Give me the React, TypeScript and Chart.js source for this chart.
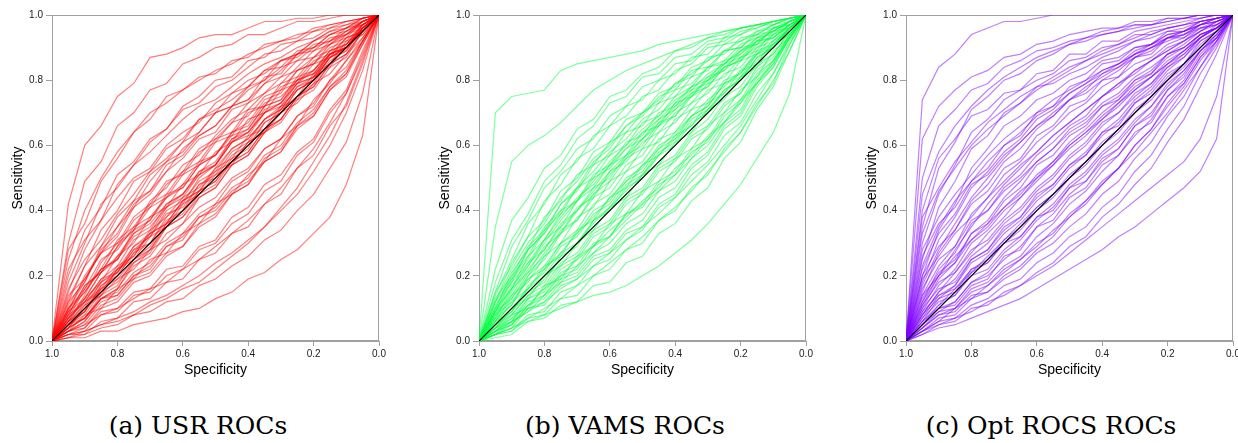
import { useEffect, useRef } from "react";
import { Chart, registerables } from "chart.js";

Chart.register(...registerables);

// Specificity grid (x values, plotted reversed 1.0 -> 0.0)
const SPECIFICITY = [1.0, 0.95, 0.9, 0.85, 0.8, 0.75, 0.7, 0.65, 0.6, 0.55, 0.5, 0.45, 0.4, 0.35, 0.3, 0.25, 0.2, 0.15, 0.1, 0.05, 0.0];
const AXIS_TICKS = [0, 0.2, 0.4, 0.6, 0.8, 1.0];
const DIAG_SPEC = [1, 0];
const DIAG_SENS = [0, 1];

const USR_ROCS = [
  [0, .42, .60, .66, .75, .79, .87, .88, .90, .93, .94, .94, .96, .98, .98, .99, .99, 1, 1, 1, 1],
  [0, .30, .49, .55, .66, .70, .77, .79, .85, .87, .90, .91, .94, .94, .96, .98, .98, .99, 1, 1, 1],
  [0, .28, .36, .49, .56, .64, .68, .75, .77, .81, .82, .86, .87, .91, .92, .93, .96, .97, .98, .99, 1],
  [0, .20, .34, .41, .51, .55, .62, .65, .71, .73, .78, .80, .84, .88, .89, .92, .93, .96, .97, .99, 1],
  [0, .15, .28, .37, .48, .54, .61, .65, .72, .75, .80, .81, .86, .87, .91, .92, .95, .96, .98, .99, 1],
  [0, .12, .23, .29, .38, .43, .51, .55, .61, .64, .70, .72, .78, .80, .86, .87, .91, .92, .96, .97, 1],
  [0, .10, .18, .29, .35, .43, .46, .54, .57, .63, .66, .72, .74, .81, .82, .88, .89, .93, .94, .98, 1],
  [0, .14, .19, .27, .32, .41, .45, .52, .56, .62, .64, .71, .73, .79, .81, .86, .87, .92, .94, .98, 1],
  [0, .08, .17, .21, .29, .34, .41, .44, .51, .54, .61, .63, .70, .72, .78, .80, .86, .88, .93, .95, 1],
  [0, .09, .13, .21, .26, .33, .37, .45, .47, .54, .57, .64, .66, .73, .75, .80, .82, .88, .90, .96, 1],
  [0, .07, .16, .22, .31, .35, .42, .45, .52, .55, .62, .64, .71, .72, .79, .81, .87, .89, .94, .96, 1],
  [0, .10, .16, .25, .28, .35, .38, .44, .48, .55, .57, .63, .65, .72, .74, .80, .83, .89, .91, .97, 1],
  [0, .06, .13, .18, .26, .30, .38, .41, .48, .51, .58, .61, .68, .70, .77, .79, .85, .87, .93, .95, 1],
  [0, .07, .12, .19, .23, .31, .34, .42, .45, .52, .54, .61, .64, .71, .73, .80, .82, .88, .90, .96, 1],
  [0, .05, .12, .15, .22, .26, .33, .36, .43, .46, .53, .56, .63, .65, .72, .74, .81, .84, .91, .94, 1],
  [0, .06, .09, .16, .19, .25, .28, .35, .38, .45, .48, .55, .58, .65, .68, .75, .78, .85, .88, .95, 1],
  [0, .04, .10, .14, .22, .25, .32, .35, .42, .45, .51, .54, .61, .64, .71, .75, .82, .85, .92, .94, 1],
  [0, .05, .08, .15, .18, .24, .27, .35, .38, .44, .47, .54, .57, .64, .67, .74, .77, .84, .87, .95, 1],
  [0, .08, .12, .19, .21, .28, .30, .37, .40, .46, .49, .55, .58, .65, .68, .75, .78, .85, .88, .95, 1],
  [0, .04, .07, .13, .16, .23, .26, .33, .36, .44, .47, .54, .57, .64, .68, .75, .79, .86, .89, .96, 1],
  [0, .06, .11, .18, .22, .29, .32, .40, .43, .49, .52, .59, .62, .68, .71, .78, .80, .87, .89, .96, 1],
  [0, .05, .09, .17, .21, .29, .33, .41, .45, .52, .55, .62, .64, .70, .73, .79, .81, .87, .90, .96, 1],
  [0, .09, .15, .22, .25, .32, .35, .41, .44, .51, .54, .61, .63, .70, .72, .79, .81, .88, .90, .97, 1],
  [0, .07, .13, .21, .25, .34, .37, .44, .47, .54, .57, .64, .67, .74, .76, .83, .85, .91, .93, .98, 1],
  [0, .05, .09, .16, .20, .27, .30, .38, .42, .50, .54, .62, .65, .72, .74, .81, .83, .89, .91, .97, 1],
  [0, .03, .06, .12, .14, .20, .22, .29, .31, .38, .41, .47, .50, .57, .60, .67, .71, .78, .82, .91, 1],
  [0, .04, .07, .13, .15, .21, .24, .30, .33, .39, .42, .49, .52, .59, .62, .69, .72, .80, .84, .92, 1],
  [0, .03, .05, .11, .13, .19, .21, .27, .29, .36, .39, .45, .48, .56, .59, .66, .70, .78, .83, .92, 1],
  [0, .05, .07, .13, .14, .20, .23, .29, .32, .38, .40, .46, .49, .55, .58, .66, .69, .77, .81, .91, 1],
  [0, .02, .04, .10, .12, .18, .20, .26, .29, .35, .38, .45, .48, .55, .58, .65, .69, .77, .82, .92, 1],
  [0, .02, .03, .08, .09, .14, .15, .20, .22, .28, .30, .36, .39, .46, .49, .57, .61, .70, .76, .88, 1],
  [0, .03, .04, .09, .10, .15, .16, .22, .23, .29, .31, .38, .41, .48, .51, .58, .62, .71, .77, .89, 1],
  [0, .02, .02, .06, .07, .12, .13, .18, .19, .25, .27, .33, .35, .42, .45, .53, .57, .66, .72, .85, 1],
  [0, .01, .01, .03, .03, .05, .06, .07, .09, .10, .13, .15, .19, .21, .25, .28, .33, .38, .48, .63, 1],
  [0, .01, .02, .04, .05, .08, .09, .12, .13, .17, .19, .23, .26, .31, .34, .40, .45, .53, .61, .76, 1],
  [0, .11, .19, .27, .30, .38, .42, .49, .51, .58, .61, .67, .69, .75, .77, .83, .85, .90, .92, .97, 1],
  [0, .04, .07, .14, .17, .25, .29, .36, .39, .46, .49, .56, .59, .67, .70, .77, .80, .87, .90, .96, 1],
  [0, .06, .10, .18, .21, .28, .32, .39, .41, .48, .50, .57, .60, .67, .70, .77, .80, .87, .90, .95, 1],
  [0, .13, .23, .34, .40, .49, .52, .59, .62, .68, .70, .76, .78, .83, .84, .89, .90, .94, .95, .98, 1],
  [0, .03, .06, .13, .16, .24, .28, .36, .40, .48, .51, .58, .61, .68, .71, .78, .81, .88, .90, .95, 1],
  [0, .09, .20, .27, .35, .41, .49, .55, .58, .64, .70, .72, .77, .80, .84, .86, .90, .92, .95, .97, 1],
  [0, .12, .18, .28, .33, .42, .46, .52, .59, .63, .66, .72, .74, .79, .83, .88, .90, .94, .96, .98, 1],
  [0, .06, .14, .24, .30, .34, .43, .47, .54, .57, .63, .68, .71, .76, .81, .83, .87, .91, .95, .98, 1],
  [0, .08, .17, .21, .29, .37, .41, .48, .52, .59, .62, .67, .73, .76, .79, .84, .89, .91, .94, .97, 1],
  [0, .16, .25, .31, .39, .45, .52, .56, .61, .68, .71, .74, .78, .83, .86, .88, .92, .95, .96, .99, 1],
  [0, .05, .09, .17, .20, .27, .33, .36, .43, .46, .52, .55, .61, .64, .70, .73, .79, .82, .88, .93, 1],
  [0, .04, .11, .14, .19, .22, .28, .31, .36, .41, .44, .50, .53, .59, .62, .69, .73, .80, .86, .93, 1],
  [0, .03, .08, .10, .16, .19, .25, .27, .33, .36, .42, .45, .51, .55, .62, .66, .74, .79, .86, .92, 1],
  [0, .10, .15, .22, .25, .33, .36, .42, .45, .51, .54, .61, .64, .70, .73, .79, .83, .88, .91, .96, 1],
  [0, .07, .12, .16, .23, .26, .34, .38, .44, .47, .53, .59, .62, .68, .72, .77, .80, .85, .90, .95, 1],
  [0, .25, .40, .50, .58, .64, .70, .73, .77, .80, .83, .85, .88, .90, .92, .94, .95, .97, .98, .99, 1],
  [0, .18, .30, .42, .47, .54, .58, .63, .68, .72, .74, .78, .82, .85, .87, .90, .92, .95, .97, .98, 1],
  [0, .22, .31, .37, .44, .50, .53, .60, .64, .67, .73, .76, .80, .82, .86, .88, .92, .94, .96, .99, 1],
  [0, .02, .03, .05, .07, .09, .12, .14, .17, .20, .24, .27, .31, .35, .40, .45, .52, .60, .70, .83, 1],
  [0, .03, .05, .08, .10, .13, .16, .18, .22, .25, .29, .33, .37, .42, .47, .53, .59, .67, .76, .87, 1],
  [0, .01, .03, .05, .06, .08, .11, .13, .16, .18, .22, .26, .30, .35, .41, .47, .55, .63, .73, .86, 1],
];

const VAMS_ROCS = [
  [0, .70, .75, .76, .77, .83, .85, .86, .87, .88, .89, .91, .92, .93, .94, .95, .96, .97, .98, .99, 1],
  [0, .35, .55, .60, .63, .67, .72, .77, .80, .83, .85, .87, .89, .91, .93, .95, .96, .97, .98, .99, 1],
  [0, .22, .37, .44, .53, .57, .65, .68, .75, .77, .82, .84, .89, .90, .93, .94, .96, .97, .98, .99, 1],
  [0, .15, .29, .37, .47, .52, .59, .62, .69, .72, .78, .80, .85, .86, .91, .92, .95, .96, .98, .99, 1],
  [0, .12, .24, .32, .43, .48, .56, .59, .66, .69, .75, .77, .83, .85, .90, .91, .94, .96, .98, .99, 1],
  [0, .15, .23, .32, .37, .46, .50, .58, .61, .68, .70, .76, .78, .84, .86, .91, .92, .95, .97, .99, 1],
  [0, .10, .21, .28, .38, .43, .51, .54, .61, .64, .70, .73, .79, .81, .87, .88, .93, .94, .97, .98, 1],
  [0, .13, .20, .29, .34, .42, .46, .54, .57, .64, .66, .73, .75, .81, .83, .89, .90, .94, .95, .98, 1],
  [0, .09, .19, .25, .34, .39, .47, .50, .57, .60, .67, .69, .75, .78, .84, .85, .90, .91, .96, .97, 1],
  [0, .11, .18, .28, .33, .40, .43, .51, .54, .61, .63, .70, .72, .78, .80, .86, .88, .93, .94, .98, 1],
  [0, .08, .17, .23, .31, .35, .43, .47, .54, .57, .64, .66, .73, .75, .81, .83, .89, .91, .96, .97, 1],
  [0, .10, .16, .24, .28, .36, .40, .47, .50, .57, .60, .67, .69, .75, .78, .84, .86, .91, .93, .97, 1],
  [0, .07, .16, .21, .29, .33, .41, .44, .52, .55, .61, .64, .70, .73, .79, .81, .87, .89, .95, .96, 1],
  [0, .09, .13, .21, .26, .34, .37, .44, .47, .54, .57, .64, .67, .73, .76, .82, .84, .90, .92, .97, 1],
  [0, .06, .14, .18, .26, .30, .38, .41, .49, .52, .59, .61, .68, .71, .77, .79, .86, .88, .94, .96, 1],
  [0, .08, .12, .19, .23, .30, .34, .42, .45, .52, .55, .62, .64, .71, .73, .80, .82, .89, .91, .96, 1],
  [0, .07, .11, .19, .22, .30, .33, .40, .43, .50, .53, .60, .63, .69, .72, .79, .81, .88, .90, .96, 1],
  [0, .05, .12, .16, .23, .26, .34, .37, .44, .47, .54, .57, .63, .66, .73, .76, .83, .85, .92, .95, 1],
  [0, .06, .09, .16, .20, .27, .30, .37, .40, .47, .50, .57, .60, .67, .70, .77, .80, .87, .90, .96, 1],
  [0, .04, .10, .13, .20, .23, .30, .34, .41, .44, .51, .54, .61, .64, .71, .74, .81, .84, .91, .94, 1],
  [0, .05, .08, .14, .17, .24, .27, .34, .37, .44, .47, .54, .57, .64, .68, .75, .78, .85, .88, .95, 1],
  [0, .04, .07, .13, .16, .23, .26, .33, .36, .43, .46, .53, .56, .63, .66, .73, .76, .84, .88, .95, 1],
  [0, .03, .08, .10, .17, .19, .26, .29, .36, .39, .46, .49, .56, .59, .66, .70, .77, .81, .89, .93, 1],
  [0, .04, .06, .12, .14, .20, .22, .29, .32, .39, .42, .49, .52, .59, .62, .70, .74, .82, .86, .94, 1],
  [0, .03, .05, .11, .13, .19, .21, .27, .30, .36, .39, .46, .49, .56, .60, .67, .71, .80, .85, .94, 1],
  [0, .02, .04, .10, .12, .18, .20, .26, .28, .34, .37, .44, .47, .54, .58, .66, .70, .79, .84, .93, 1],
  [0, .03, .05, .10, .11, .17, .19, .25, .27, .33, .35, .42, .45, .53, .57, .65, .69, .78, .84, .93, 1],
  [0, .02, .03, .08, .09, .15, .17, .23, .25, .31, .34, .41, .44, .51, .55, .63, .67, .76, .82, .92, 1],
  [0, .02, .03, .07, .08, .13, .14, .20, .22, .28, .30, .37, .40, .47, .51, .59, .64, .73, .79, .91, 1],
  [0, .01, .02, .06, .07, .11, .12, .17, .18, .24, .26, .33, .36, .43, .47, .56, .61, .71, .78, .89, 1],
  [0, .02, .04, .06, .08, .10, .12, .14, .15, .17, .20, .23, .27, .31, .36, .42, .48, .56, .64, .76, 1],
  [0, .18, .31, .39, .49, .54, .62, .66, .73, .75, .81, .82, .87, .88, .92, .93, .96, .97, .98, .99, 1],
  [0, .12, .19, .28, .33, .42, .47, .55, .59, .66, .69, .75, .77, .83, .84, .89, .90, .95, .96, .98, 1],
  [0, .06, .11, .20, .25, .33, .37, .45, .49, .56, .59, .66, .69, .76, .78, .84, .86, .92, .93, .97, 1],
  [0, .05, .09, .15, .18, .26, .29, .37, .41, .48, .51, .58, .61, .68, .71, .77, .80, .87, .90, .96, 1],
  [0, .03, .06, .13, .15, .22, .25, .32, .35, .42, .45, .52, .55, .62, .65, .72, .76, .83, .87, .94, 1],
  [0, .02, .05, .11, .14, .21, .23, .30, .32, .39, .41, .48, .51, .58, .61, .69, .73, .81, .86, .93, 1],
  [0, .14, .25, .36, .42, .51, .55, .63, .66, .72, .74, .80, .82, .87, .88, .93, .94, .97, .97, .99, 1],
  [0, .09, .16, .26, .31, .39, .43, .50, .53, .59, .62, .68, .71, .77, .79, .85, .87, .92, .93, .97, 1],
  [0, .04, .09, .17, .21, .29, .32, .39, .42, .49, .52, .59, .62, .69, .72, .79, .82, .88, .91, .96, 1],
  [0, .10, .20, .26, .35, .40, .47, .52, .58, .62, .68, .71, .77, .79, .84, .86, .91, .93, .96, .98, 1],
  [0, .07, .15, .23, .30, .37, .43, .49, .55, .60, .65, .69, .74, .77, .82, .85, .89, .92, .95, .98, 1],
  [0, .12, .22, .30, .36, .44, .49, .56, .60, .66, .70, .74, .79, .82, .86, .89, .92, .94, .97, .99, 1],
  [0, .06, .13, .20, .27, .33, .40, .45, .51, .56, .62, .66, .71, .75, .80, .83, .87, .90, .94, .97, 1],
  [0, .08, .14, .22, .28, .35, .40, .46, .52, .57, .62, .67, .72, .76, .80, .84, .88, .92, .95, .98, 1],
  [0, .03, .07, .11, .16, .20, .25, .29, .34, .38, .43, .47, .53, .57, .63, .67, .74, .79, .86, .93, 1],
  [0, .05, .10, .16, .22, .27, .33, .38, .44, .49, .54, .59, .64, .69, .74, .78, .83, .88, .92, .96, 1],
  [0, .02, .06, .09, .14, .18, .23, .27, .32, .37, .42, .46, .51, .56, .62, .67, .73, .79, .85, .93, 1],
  [0, .09, .18, .24, .31, .38, .44, .48, .54, .59, .64, .68, .73, .78, .81, .85, .89, .93, .95, .98, 1],
  [0, .04, .08, .14, .19, .25, .30, .36, .41, .46, .51, .57, .62, .66, .71, .76, .81, .86, .91, .96, 1],
  [0, .02, .04, .07, .10, .13, .17, .20, .24, .28, .32, .37, .41, .46, .52, .58, .64, .72, .80, .89, 1],
  [0, .03, .06, .09, .12, .16, .19, .23, .27, .31, .35, .39, .44, .49, .54, .60, .66, .74, .82, .91, 1],
];

const OPT_ROCS = [
  [0, .74, .84, .88, .94, .96, .98, .98, .99, 1, 1, 1, 1, 1, 1, 1, 1, 1, 1, 1, 1],
  [0, .62, .72, .77, .81, .83, .87, .88, .91, .92, .94, .95, .96, .96, .98, .98, .99, .99, 1, 1, 1],
  [0, .50, .66, .71, .77, .79, .84, .86, .89, .90, .92, .93, .95, .96, .97, .97, .99, .99, 1, 1, 1],
  [0, .35, .53, .61, .71, .75, .80, .82, .86, .88, .91, .92, .94, .95, .97, .97, .98, .99, 1, 1, 1],
  [0, .30, .45, .54, .64, .68, .74, .77, .80, .82, .86, .87, .90, .91, .94, .94, .96, .97, .99, 1, 1],
  [0, .25, .41, .49, .59, .63, .70, .73, .78, .79, .82, .84, .87, .89, .92, .93, .95, .96, .98, .99, 1],
  [0, .20, .34, .42, .53, .59, .66, .69, .74, .76, .80, .82, .86, .87, .90, .91, .94, .95, .98, .99, 1],
  [0, .18, .31, .38, .47, .52, .58, .62, .68, .71, .76, .79, .83, .85, .89, .91, .94, .95, .97, .99, 1],
  [0, .22, .33, .39, .48, .51, .57, .61, .66, .69, .74, .76, .80, .83, .87, .89, .93, .94, .97, .98, 1],
  [0, .15, .27, .34, .43, .48, .55, .59, .65, .69, .74, .77, .82, .84, .88, .90, .93, .94, .97, .98, 1],
  [0, .14, .23, .29, .39, .44, .51, .55, .61, .65, .70, .73, .78, .81, .85, .87, .91, .93, .96, .97, 1],
  [0, .12, .22, .27, .36, .40, .47, .51, .57, .61, .66, .69, .75, .78, .83, .86, .90, .92, .96, .97, 1],
  [0, .16, .25, .29, .37, .40, .46, .50, .55, .59, .64, .67, .72, .75, .80, .83, .88, .90, .94, .96, 1],
  [0, .10, .19, .24, .33, .37, .44, .49, .55, .59, .65, .68, .73, .76, .81, .84, .88, .91, .95, .97, 1],
  [0, .12, .20, .24, .31, .35, .41, .45, .51, .55, .61, .65, .70, .74, .79, .82, .87, .90, .94, .96, 1],
  [0, .09, .17, .22, .30, .34, .40, .44, .50, .54, .60, .64, .69, .73, .78, .81, .86, .89, .94, .96, 1],
  [0, .11, .18, .21, .28, .31, .37, .41, .47, .51, .57, .61, .67, .70, .76, .79, .85, .88, .93, .96, 1],
  [0, .08, .15, .19, .26, .30, .36, .40, .46, .50, .56, .60, .66, .70, .75, .79, .84, .88, .93, .96, 1],
  [0, .10, .16, .18, .25, .28, .34, .38, .44, .48, .54, .58, .64, .68, .74, .78, .84, .87, .93, .96, 1],
  [0, .06, .13, .17, .24, .27, .33, .37, .43, .47, .53, .57, .63, .67, .73, .77, .83, .87, .92, .95, 1],
  [0, .08, .13, .15, .22, .25, .31, .35, .41, .45, .51, .55, .61, .65, .71, .75, .81, .85, .91, .95, 1],
  [0, .05, .11, .14, .21, .24, .30, .34, .40, .44, .50, .54, .60, .64, .70, .74, .80, .84, .90, .94, 1],
  [0, .07, .12, .14, .20, .22, .28, .32, .38, .42, .48, .52, .58, .62, .68, .72, .79, .83, .89, .94, 1],
  [0, .04, .09, .12, .18, .21, .27, .31, .37, .41, .47, .51, .57, .61, .67, .72, .78, .83, .89, .94, 1],
  [0, .06, .10, .12, .18, .20, .25, .29, .35, .39, .45, .49, .55, .59, .66, .70, .77, .82, .89, .93, 1],
  [0, .04, .08, .10, .16, .18, .23, .26, .32, .36, .42, .46, .52, .57, .63, .68, .75, .80, .88, .93, 1],
  [0, .05, .09, .10, .15, .17, .22, .25, .30, .33, .39, .43, .49, .53, .60, .65, .72, .78, .86, .92, 1],
  [0, .03, .07, .08, .13, .15, .20, .23, .28, .32, .38, .42, .48, .53, .60, .65, .73, .79, .87, .93, 1],
  [0, .04, .08, .09, .14, .15, .19, .22, .27, .30, .35, .39, .45, .49, .56, .61, .69, .75, .84, .91, 1],
  [0, .03, .06, .07, .11, .13, .17, .19, .24, .27, .32, .35, .41, .45, .52, .57, .65, .72, .82, .90, 1],
  [0, .02, .05, .06, .10, .11, .15, .17, .21, .24, .29, .32, .38, .42, .48, .53, .61, .68, .78, .88, 1],
  [0, .02, .04, .05, .07, .09, .11, .13, .16, .19, .22, .25, .28, .32, .35, .39, .43, .47, .52, .62, 1],
  [0, .03, .05, .07, .09, .12, .14, .17, .20, .23, .27, .31, .35, .39, .43, .47, .51, .55, .62, .75, 1],
  [0, .20, .29, .34, .42, .46, .53, .56, .63, .66, .72, .74, .80, .81, .87, .88, .93, .93, .97, .98, 1],
  [0, .26, .36, .41, .49, .53, .60, .63, .70, .72, .78, .80, .85, .86, .90, .91, .95, .95, .98, .99, 1],
  [0, .13, .21, .25, .33, .36, .43, .47, .54, .57, .63, .66, .72, .74, .80, .82, .88, .90, .94, .96, 1],
  [0, .07, .14, .17, .25, .28, .35, .38, .45, .48, .54, .57, .64, .66, .73, .76, .82, .85, .92, .95, 1],
  [0, .09, .14, .16, .22, .24, .30, .32, .38, .40, .47, .49, .56, .59, .66, .69, .77, .81, .89, .93, 1],
  [0, .05, .10, .11, .17, .19, .26, .28, .35, .37, .44, .47, .54, .57, .64, .67, .75, .79, .87, .92, 1],
  [0, .40, .56, .62, .69, .71, .76, .77, .82, .83, .88, .88, .92, .92, .95, .96, .97, .98, .99, 1, 1],
  [0, .28, .38, .45, .51, .57, .62, .66, .70, .74, .77, .80, .83, .85, .88, .90, .93, .95, .97, .99, 1],
  [0, .17, .28, .36, .44, .50, .56, .61, .66, .70, .74, .78, .81, .84, .87, .90, .92, .94, .96, .98, 1],
  [0, .11, .20, .28, .35, .42, .48, .53, .58, .63, .67, .71, .75, .79, .83, .86, .89, .92, .95, .98, 1],
  [0, .19, .26, .33, .38, .44, .49, .54, .58, .63, .67, .71, .75, .79, .82, .86, .89, .92, .95, .98, 1],
  [0, .08, .15, .21, .27, .33, .38, .44, .49, .54, .59, .63, .68, .72, .77, .81, .85, .89, .93, .97, 1],
  [0, .14, .20, .26, .31, .36, .41, .46, .50, .55, .60, .64, .68, .73, .77, .81, .85, .89, .93, .96, 1],
  [0, .06, .11, .16, .21, .26, .31, .36, .41, .45, .50, .55, .60, .65, .70, .75, .80, .85, .90, .95, 1],
  [0, .03, .06, .10, .13, .17, .21, .25, .29, .34, .38, .43, .48, .53, .58, .64, .70, .77, .84, .92, 1],
  [0, .33, .46, .53, .60, .65, .69, .73, .77, .80, .83, .86, .88, .90, .92, .94, .96, .97, .98, .99, 1],
  [0, .23, .35, .43, .49, .55, .60, .64, .69, .72, .76, .79, .82, .85, .88, .91, .93, .95, .97, .99, 1],
  [0, .45, .58, .66, .72, .77, .81, .84, .87, .89, .91, .93, .94, .95, .96, .97, .98, .99, .99, 1, 1],
  [0, .38, .47, .55, .61, .67, .71, .75, .78, .81, .84, .86, .89, .91, .93, .95, .96, .97, .98, .99, 1],
];

const CAPTIONS = ["(a) USR ROCs", "(b) VAMS ROCs", "(c) Opt ROCS ROCs"];
const LINE_COLORS = ["rgba(255, 0, 0, 0.5)", "rgba(0, 255, 64, 0.5)", "rgba(127, 0, 255, 0.5)"];

const AXIS_GREY = "#a0a0a0";
const PLOT_W = 327;
const Y_AXIS_W = 52;
const X_AXIS_H = 49;
const TOP_PAD = 15;

const boxPlugin = {
  id: "plotBox",
  beforeDatasetsDraw(chart: any) {
    const { ctx, chartArea } = chart;
    ctx.save();
    ctx.strokeStyle = AXIS_GREY;
    ctx.lineWidth = 1;
    ctx.strokeRect(chartArea.left + 0.5, chartArea.top + 0.5, chartArea.right - chartArea.left - 1, chartArea.bottom - chartArea.top - 1);
    ctx.restore();
  },
};

function RocPanel({ curves, color, left, width }: { curves: number[][]; color: string; left: number; width: number }) {
  const ref = useRef<HTMLCanvasElement | null>(null);
  useEffect(() => {
    if (!ref.current) return;
    const setTicks = (scale: any) => {
      scale.ticks = AXIS_TICKS.map((v) => ({ value: v }));
    };
    const datasets: any[] = [
      {
        data: DIAG_SPEC.map((s, i) => ({ x: s, y: DIAG_SENS[i] })),
        borderColor: "#000000",
        borderWidth: 1.2,
        pointRadius: 0,
        order: 0,
      },
      ...curves.map((c) => ({
        data: SPECIFICITY.map((s, i) => ({ x: s, y: c[i] })),
        borderColor: color,
        borderWidth: 1.2,
        pointRadius: 0,
        tension: 0,
        order: 1,
      })),
    ];
    const chart = new Chart(ref.current, {
      type: "line",
      data: { datasets },
      options: {
        animation: false,
        responsive: false,
        maintainAspectRatio: false,
        events: [],
        layout: { padding: { top: TOP_PAD, left: 0, bottom: 0, right: width - Y_AXIS_W - PLOT_W } },
        plugins: { legend: { display: false }, tooltip: { enabled: false } },
        scales: {
          x: {
            type: "linear",
            min: 0,
            max: 1,
            reverse: true,
            afterBuildTicks: setTicks,
            afterFit: (s: any) => {
              s.height = X_AXIS_H;
              s.paddingLeft = 0;
              s.paddingRight = 0;
            },
            grid: { drawOnChartArea: false, drawTicks: true, tickLength: 5, color: AXIS_GREY },
            border: { display: true, color: AXIS_GREY },
            ticks: {
              padding: 2,
              color: "#222",
              font: { family: "'Liberation Sans', Arial, sans-serif", size: 10 },
              callback: (v: any) => Number(v).toFixed(1),
              maxRotation: 0,
            },
            title: {
              display: true,
              text: "Specificity",
              color: "#000",
              font: { family: "'Liberation Sans', Arial, sans-serif", size: 14 },
              padding: { top: 0, bottom: 11 },
            },
          },
          y: {
            type: "linear",
            min: 0,
            max: 1,
            afterBuildTicks: setTicks,
            afterFit: (s: any) => {
              s.width = Y_AXIS_W;
              s.paddingTop = 0;
              s.paddingBottom = 0;
            },
            grid: { drawOnChartArea: false, drawTicks: true, tickLength: 6, color: AXIS_GREY },
            border: { display: true, color: AXIS_GREY },
            ticks: {
              padding: 3,
              color: "#222",
              font: { family: "'Liberation Sans', Arial, sans-serif", size: 10 },
              callback: (v: any) => Number(v).toFixed(1),
            },
            title: {
              display: true,
              text: "Sensitivity",
              color: "#000",
              font: { family: "'Liberation Sans', Arial, sans-serif", size: 14 },
              padding: { top: 10, bottom: 0 },
            },
          },
        },
      },
      plugins: [boxPlugin],
    });
    return () => chart.destroy();
  }, [curves, color, width]);
  return (
    <canvas
      ref={ref}
      width={width}
      height={341 + X_AXIS_H}
      style={{ position: "absolute", left, top: 0, width, height: 341 + X_AXIS_H }}
    />
  );
}

const PANELS = [
  { curves: USR_ROCS, left: 0, width: 410, captionX: 198 },
  { curves: VAMS_ROCS, left: 427, width: 410, captionX: 625 },
  { curves: OPT_ROCS, left: 854, width: 384, captionX: 1051 },
];

export default function App() {
  return (
    <div style={{ position: "absolute", left: 0, top: 0, width: 1238, height: 443, background: "#fff", overflow: "hidden" }}>
      {PANELS.map((p, i) => (
        <RocPanel key={i} curves={p.curves} color={LINE_COLORS[i]} left={p.left} width={p.width} />
      ))}
      {PANELS.map((p, i) => (
        <div
          key={"c" + i}
          style={{
            position: "absolute",
            left: p.captionX - 200,
            width: 400,
            top: 411,
            textAlign: "center",
            fontFamily: "'DejaVu Serif', serif",
            fontSize: 25,
            lineHeight: "30px",
            color: "#000",
            whiteSpace: "nowrap",
          }}
        >
          {CAPTIONS[i]}
        </div>
      ))}
    </div>
  );
}
